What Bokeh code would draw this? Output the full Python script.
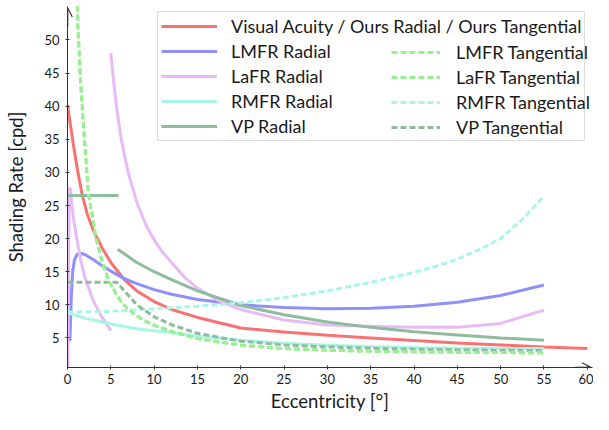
from bokeh.plotting import figure
from bokeh.models import Legend, LegendItem, FixedTicker, Arrow, OpenHead, Range1d
from bokeh.embed import file_html
from bokeh.resources import INLINE

nan = float("nan")

# ---- data (eccentricity in degrees, shading rate in cpd) ----
va_x = [0, 0.3, 0.7, 1.2, 1.7, 2.3, 3, 4, 5, 6.5, 8, 10, 12, 15, 20, 25, 30, 35, 40, 45, 50, 55, 60]
va_y = [40.2, 37.5, 34, 30, 26.6, 23.6, 21.2, 18.6, 16.4, 13.9, 12.1, 10.5, 9.3, 8.1, 6.5, 5.9, 5.4, 5.0, 4.6, 4.25, 3.95, 3.65, 3.4]

lmfr_r_x = [0.27, 0.35, 0.45, 0.6, 0.8, 1.1, 1.5, 2, 3, 4, 5, 6.5, 8, 10, 12, 15, 20, 25, 30, 35, 40, 45, 50, 55]
lmfr_r_y = [4.5, 7.5, 11.5, 15, 16.8, 17.6, 17.8, 17.6, 16.8, 15.9, 15.1, 14.0, 13.2, 12.3, 11.6, 10.8, 10.0, 9.6, 9.4, 9.5, 9.8, 10.4, 11.4, 13.0]

lafr_r_x = [0.05, 0.15, 0.22, 0.35, 0.5, 0.7, 1.0, 1.5, 2, 3, 4, 5, nan,
            5, 5.3, 5.7, 6.2, 7, 8, 9, 10, 11, 12, 13.5, 15, 17.5, 20, 25, 30, 35, 40, 45, 50, 55]
lafr_r_y = [0.5, 20, 27.7, 27.5, 25, 23, 20.5, 16.9, 14.2, 10.5, 8.1, 6.1, nan,
            48, 44, 39.5, 35, 30, 25.5, 22.2, 19.8, 17.9, 16.4, 14.2, 12.5, 10.6, 9.3, 7.7, 6.95, 6.75, 6.6, 6.6, 7.2, 9.2]

rmfr_r_x = [0, 0.5, 1, 2, 3, 5, 8, 10, 12, 15, 20, 25, 30, 35, 40, 45, 50, 55]
rmfr_r_y = [9.0, 8.6, 8.4, 8.0, 7.7, 7.1, 6.4, 6.1, 5.8, 5.3, 4.65, 4.2, 3.9, 3.7, 3.55, 3.45, 3.4, 3.4]

vp_r_x = [0, 5.9, nan, 5.8, 7, 8, 10, 12, 15, 20, 25, 30, 35, 40, 45, 50, 55]
vp_r_y = [26.5, 26.5, nan, 18.4, 17.3, 16.4, 15.0, 13.8, 12.1, 9.9, 8.5, 7.4, 6.6, 5.95, 5.45, 5.0, 4.65]

lmfr_t_x = [1.0, 1.2, 1.5, 1.8, 2.4, 3.3, 4, 4.8, 6, 7, 8.5, 10, 12, 15, 20, 25, 30, 35, 40, 45, 50, 55]
lmfr_t_y = [62, 52, 44, 38, 27, 20, 16.5, 13.5, 10.8, 9.3, 7.9, 6.9, 6.0, 4.9, 3.9, 3.4, 3.15, 3.0, 2.9, 2.85, 2.8, 2.75]

lafr_t_x = [1.0, 1.2, 1.5, 1.8, 2.4, 3.3, 4, 4.8, 6, 7, 8.5, 10, 12, 15, 20, 25, 30, 35, 40, 45, 50, 55]
lafr_t_y = [62, 52, 44, 38, 27, 20, 16.5, 13.5, 10.8, 9.3, 7.9, 6.9, 6.0, 4.9, 3.9, 3.4, 3.15, 3.0, 2.9, 2.85, 2.8, 2.75]

rmfr_t_x = [0, 5, 10, 15, 20, 25, 30, 35, 40, 42.5, 45, 47.5, 50, 52.5, 55]
rmfr_t_y = [8.9, 9.0, 9.4, 9.8, 10.3, 11.1, 12.1, 13.4, 14.9, 15.8, 16.9, 18.3, 20.0, 22.9, 26.4]

vp_t_x = [0, 5.7, 6.5, 8, 10, 12, 15, 20, 25, 30, 35, 40, 45, 50, 55]
vp_t_y = [13.4, 13.4, 12.2, 10.0, 8.2, 7.0, 5.7, 4.5, 3.95, 3.65, 3.45, 3.3, 3.2, 3.15, 3.1]

x_ticks = [0, 5, 10, 15, 20, 25, 30, 35, 40, 45, 50, 55, 60]
y_ticks = [5, 10, 15, 20, 25, 30, 35, 40, 45, 50]

FONT = "Lato"
RED = "#f87272"
BLUE = "#9090f8"
LAV = "#e9bbf6"
CYAN = "#a9f6e6"
VPG = "#8fbb9f"
GREEN = "#98f090"
GREEN2 = "#96ee8e"
AXC = "#333333"
TXT = "#1a1a1a"

p = figure(width=593, height=414, output_backend="svg", toolbar_location=None,
           x_range=Range1d(0, 60.6), y_range=Range1d(0.54, 55.05),
           min_border_left=67, min_border_right=1, min_border_top=6, min_border_bottom=40)
p.outline_line_color = None
p.grid.visible = False
p.background_fill_color = "white"

LW = 3
r_va = p.line(va_x, va_y, line_color=RED, line_width=LW)
r_lmr = p.line(lmfr_r_x, lmfr_r_y, line_color=BLUE, line_width=LW)
r_lar = p.line(lafr_r_x, lafr_r_y, line_color=LAV, line_width=LW)
r_rmr = p.line(rmfr_r_x, rmfr_r_y, line_color=CYAN, line_width=LW)
r_vpr = p.line(vp_r_x, vp_r_y, line_color=VPG, line_width=LW)
r_rmt = p.line(rmfr_t_x, rmfr_t_y, line_color=CYAN, line_width=LW, line_dash="6 3")
r_vpt = p.line(vp_t_x, vp_t_y, line_color=VPG, line_width=LW, line_dash="6 3")
r_lat = p.line(lafr_t_x, lafr_t_y, line_color=GREEN2, line_width=LW, line_dash="6 3")
r_lmt = p.line(lmfr_t_x, lmfr_t_y, line_color=GREEN, line_width=LW, line_dash="6 3")

# axes
for ax in (p.xaxis[0], p.yaxis[0]):
    ax.axis_line_color = AXC
    ax.axis_line_width = 1
    ax.major_tick_line_color = AXC
    ax.major_tick_in = 2
    ax.major_tick_out = 2
    ax.minor_tick_line_color = None
    ax.major_label_text_font = FONT
    ax.major_label_text_font_size = "13px"
    ax.major_label_text_color = TXT
    ax.axis_label_text_font = FONT
    ax.axis_label_text_font_size = "18.5px"
    ax.axis_label_text_font_style = "normal"
    ax.axis_label_text_color = TXT
p.xaxis.ticker = FixedTicker(ticks=x_ticks)
p.yaxis.ticker = FixedTicker(ticks=y_ticks)
p.xaxis.axis_label = "Eccentricity [°]"
p.yaxis.axis_label = "Shading Rate [cpd]"
p.xaxis.major_label_standoff = 4
p.yaxis.major_label_standoff = 6
p.xaxis.axis_label_standoff = 3
p.yaxis.axis_label_standoff = 14

# arrow heads at axis ends (tips just inside the frame)
x0, x1 = p.x_range.start, p.x_range.end
y0, y1 = p.y_range.start, p.y_range.end
dx = (x1 - x0) * 0.003
dy = (y1 - y0) * 0.004
p.add_layout(Arrow(end=OpenHead(size=9, line_color=AXC, line_width=1.2), line_color=AXC, line_width=1,
                   x_start=x1 - 2, y_start=y0 + dy * 0.2, x_end=x1 - dx, y_end=y0 + dy * 0.2))
p.add_layout(Arrow(end=OpenHead(size=9, line_color=AXC, line_width=1.2), line_color=AXC, line_width=1,
                   x_start=x0 + dx * 0.2, y_start=y1 - 3, x_end=x0 + dx * 0.2, y_end=y1 - dy))

def style(leg):
    leg.label_text_font = FONT
    leg.label_text_font_size = "18px"
    leg.label_text_color = TXT
    leg.label_height = 22
    leg.glyph_height = 22
    leg.spacing = 3
    leg.label_standoff = 14
    leg.glyph_width = 56

legA = Legend(items=[
    LegendItem(label="Visual Acuity / Ours Radial / Ours Tangential", renderers=[r_va]),
    LegendItem(label="LMFR Radial", renderers=[r_lmr]),
    LegendItem(label="LaFR Radial", renderers=[r_lar]),
    LegendItem(label="RMFR Radial", renderers=[r_rmr]),
    LegendItem(label="VP Radial", renderers=[r_vpr]),
], location=(90, 226))
style(legA)
legA.padding = 3
legA.border_line_color = "#bbbbbb"
legA.border_line_width = 1.5
legA.background_fill_alpha = 1

legB = Legend(items=[
    LegendItem(label="LMFR Tangential", renderers=[r_lmt]),
    LegendItem(label="LaFR Tangential", renderers=[r_lat]),
    LegendItem(label="RMFR Tangential", renderers=[r_rmt]),
    LegendItem(label="VP Tangential", renderers=[r_vpt]),
], location=(324, 229))
style(legB)
legB.padding = 0
legB.glyph_width = 49
legB.label_standoff = 16
legB.border_line_color = None
legB.background_fill_alpha = 0

p.add_layout(legA, "center")
p.add_layout(legB, "center")

open("out.html", "w").write(file_html(p, INLINE))
